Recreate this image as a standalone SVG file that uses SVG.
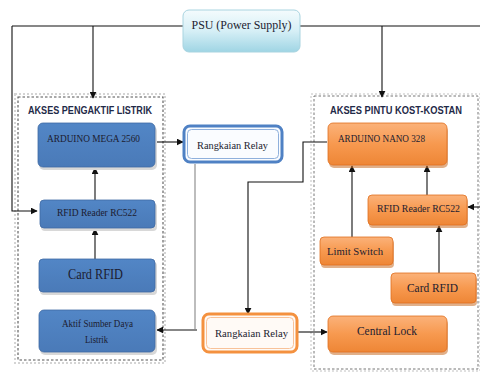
<svg xmlns="http://www.w3.org/2000/svg" width="480" height="372" viewBox="0 0 480 372">
<defs>
<linearGradient id="gPsu" x1="0" y1="0" x2="0" y2="1"><stop offset="0" stop-color="#f4fbfd"/><stop offset="0.5" stop-color="#d6eff6"/><stop offset="1" stop-color="#9fd5e4"/></linearGradient>
<linearGradient id="gBlue" x1="0" y1="0" x2="0" y2="1"><stop offset="0" stop-color="#5286c6"/><stop offset="1" stop-color="#4a7ab8"/></linearGradient>
<linearGradient id="gOr" x1="0" y1="0" x2="0" y2="1"><stop offset="0" stop-color="#fbb27a"/><stop offset="0.5" stop-color="#f7994f"/><stop offset="1" stop-color="#ee8636"/></linearGradient>
<marker id="ah" viewBox="0 0 10 10" refX="9" refY="5" markerWidth="7" markerHeight="7" orient="auto" markerUnits="userSpaceOnUse"><path d="M0,0 L10,5 L0,10 z" fill="#111"/></marker>
</defs>
<style>
.lbl{font-family:"Liberation Serif","Times New Roman",serif;fill:#1c1c30;text-anchor:middle}
.ttl{font-family:"Liberation Sans",Arial,sans-serif;font-weight:bold;fill:#1f2a48}
.blue{fill:url(#gBlue);stroke:#3f6aa3;stroke-width:0.8}
.bsh{fill:#d8d8d8}
.or{fill:url(#gOr);stroke:#e07020;stroke-width:0.8}
.osh{fill:#c9702a;opacity:0.55}
.ln{fill:none;stroke:#111;stroke-width:1.1}
.arr{fill:none;stroke:#111;stroke-width:1.1;marker-end:url(#ah)}
</style>
<rect width="480" height="372" fill="#ffffff"/>

<g id="group-left">
<rect x="15" y="94" width="150" height="269" fill="none" stroke="#d4d4d4" stroke-width="2" stroke-dasharray="2,2"/>
<rect x="18" y="97" width="145" height="263" fill="none" stroke="#555" stroke-width="1.1" stroke-dasharray="2.5,2"/>
<text class="ttl" x="28" y="114" font-size="10" textLength="124" lengthAdjust="spacingAndGlyphs">AKSES PENGAKTIF LISTRIK</text>
</g>
<g id="group-right">
<rect x="311" y="94" width="169" height="277" fill="none" stroke="#e0e0e0" stroke-width="2" stroke-dasharray="2,2"/>
<rect x="314" y="96" width="164" height="273" fill="none" stroke="#777" stroke-width="1" stroke-dasharray="2.5,2"/>
<text class="ttl" x="330" y="114" font-size="10" textLength="132" lengthAdjust="spacingAndGlyphs">AKSES PINTU KOST-KOSTAN</text>
</g>

<g id="connectors">
<path class="ln" d="M12,26 H183 M300,26 H480"/>
<path class="arr" d="M12,26 V211 H37"/>
<path class="arr" d="M93,26 V98"/>
<path class="arr" d="M382,26 V97"/>
<path class="arr" d="M95,200 V168"/>
<path class="arr" d="M95,259 V229"/>
<path class="arr" d="M156,142 H183"/>
<path d="M195,164 V329" fill="none" stroke="#bdbdbd" stroke-width="2"/>
<path class="arr" d="M197,330 H157"/>
<path class="arr" d="M327,142 H303 V182 H248 V314"/>
<path class="arr" d="M298,332 H327"/>
<path class="arr" d="M352,237 V166"/>
<path class="arr" d="M427,195 V166"/>
<path class="arr" d="M439,273 V226"/>
<path class="arr" d="M480,207 H468"/>
</g>

<g id="psu">
<rect x="183" y="10" width="117" height="42" rx="6" fill="url(#gPsu)" stroke="#a9d4e0" stroke-width="1"/>
<text class="lbl" x="241.5" y="29" font-size="12" textLength="100" lengthAdjust="spacingAndGlyphs">PSU (Power Supply)</text>
</g>

<g id="arduino-mega">
<rect class="bsh" x="39" y="126" width="118" height="44" rx="5"/>
<rect class="blue" x="38" y="123" width="117" height="44" rx="5"/>
<text class="lbl" x="93.5" y="142" font-size="11" textLength="93" lengthAdjust="spacingAndGlyphs">ARDUINO MEGA 2560</text>
</g>

<g id="rfid-left">
<rect class="bsh" x="41" y="203" width="116" height="28" rx="4"/>
<rect class="blue" x="40" y="200" width="115" height="28" rx="4"/>
<text class="lbl" x="97" y="216" font-size="11" textLength="80" lengthAdjust="spacingAndGlyphs">RFID Reader RC522</text>
</g>

<g id="card-left">
<rect class="bsh" x="40" y="262" width="117" height="33" rx="4"/>
<rect class="blue" x="39" y="259" width="116" height="33" rx="4"/>
<text class="lbl" x="95.5" y="279" font-size="14" textLength="55" lengthAdjust="spacingAndGlyphs">Card RFID</text>
</g>

<g id="aktif">
<rect class="bsh" x="40" y="313" width="117" height="42" rx="5"/>
<rect class="blue" x="39" y="310" width="116" height="42" rx="5"/>
<text class="lbl" x="97.5" y="327" font-size="10" textLength="71" lengthAdjust="spacingAndGlyphs">Aktif Sumber Daya</text>
<text class="lbl" x="96.5" y="343" font-size="10" textLength="23" lengthAdjust="spacingAndGlyphs">Listrik</text>
</g>

<g id="relay-top">
<rect x="184" y="126" width="98" height="36" rx="6" fill="#fafcff" stroke="#4f81c4" stroke-width="3"/>
<rect x="187.5" y="129.5" width="91" height="29" rx="4" fill="none" stroke="#8fb0dc" stroke-width="1"/>
<text class="lbl" x="232.5" y="149" font-size="11" textLength="71" lengthAdjust="spacingAndGlyphs">Rangkaian Relay</text>
</g>

<g id="relay-bottom">
<rect x="203" y="314" width="94" height="38" rx="6" fill="#fffaf6" stroke="#f4913f" stroke-width="3"/>
<rect x="206.5" y="317.5" width="87" height="31" rx="4" fill="none" stroke="#f8c299" stroke-width="1"/>
<text class="lbl" x="251.5" y="337" font-size="11" textLength="73" lengthAdjust="spacingAndGlyphs">Rangkaian Relay</text>
</g>

<g id="arduino-nano">
<rect class="osh" x="329" y="126" width="119" height="42" rx="5"/>
<rect class="or" x="328" y="123" width="119" height="42" rx="5"/>
<text class="lbl" x="381.5" y="142" font-size="11" textLength="87" lengthAdjust="spacingAndGlyphs">ARDUINO NANO 328</text>
</g>

<g id="rfid-right">
<rect class="osh" x="369" y="198" width="99" height="30" rx="4"/>
<rect class="or" x="368" y="195" width="99" height="30" rx="4"/>
<text class="lbl" x="418.5" y="212" font-size="10" textLength="83" lengthAdjust="spacingAndGlyphs">RFID Reader RC522</text>
</g>

<g id="limit-switch">
<rect class="osh" x="321" y="240" width="73" height="28" rx="4"/>
<rect class="or" x="320" y="237" width="73" height="28" rx="4"/>
<text class="lbl" x="355" y="255" font-size="11" textLength="56" lengthAdjust="spacingAndGlyphs">Limit Switch</text>
</g>

<g id="card-right">
<rect class="osh" x="392" y="276" width="85" height="30" rx="4"/>
<rect class="or" x="391" y="273" width="85" height="30" rx="4"/>
<text class="lbl" x="432.5" y="292" font-size="13" textLength="51" lengthAdjust="spacingAndGlyphs">Card RFID</text>
</g>

<g id="central-lock">
<rect class="osh" x="329" y="319" width="119" height="36" rx="5"/>
<rect class="or" x="328" y="316" width="119" height="36" rx="5"/>
<text class="lbl" x="387" y="335" font-size="13" textLength="60" lengthAdjust="spacingAndGlyphs">Central Lock</text>
</g>
</svg>
